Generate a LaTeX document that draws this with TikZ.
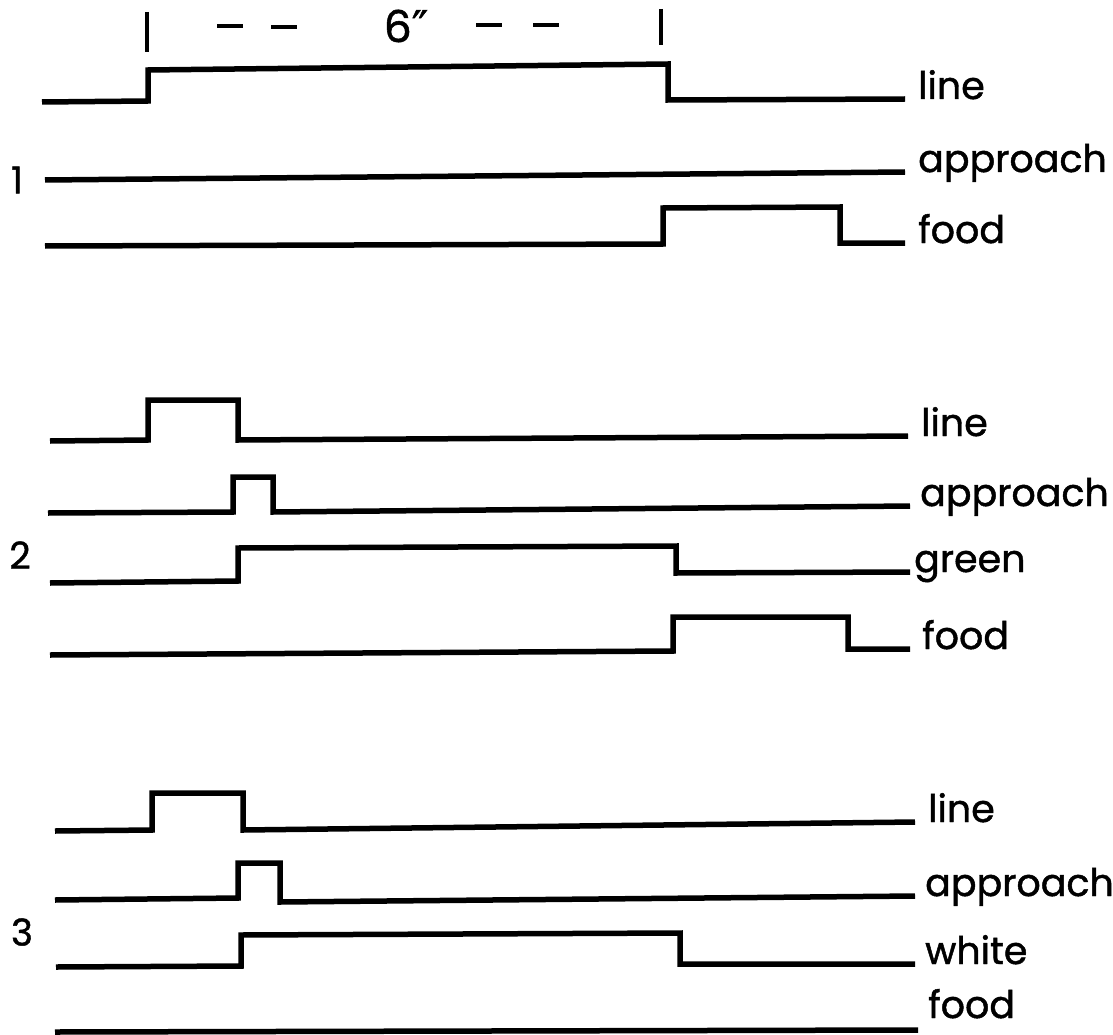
\documentclass[tikz,border=0pt]{standalone}
\usepackage{fontspec}
\setmainfont{Poppins}[FakeBold=1.2]
\newfontfamily\symfont{DejaVu Sans}[FakeBold=1]
\begin{document}
\begin{tikzpicture}[x=1pt,y=-1pt,
  sig/.style={line width=5.5pt, line join=miter, line cap=butt},
  tick/.style={line width=3.5pt},
  lab/.style={anchor=base west, inner sep=0pt, font=\fontsize{38}{38}\selectfont},
  num/.style={anchor=center, inner sep=0pt, font=\fontsize{37}{37}\selectfont}]
\useasboundingbox (0,0) rectangle (1113,1035);
% scale bar
\draw[tick] (147,12) -- (147,52);
\draw[tick] (661,9) -- (661,45);
\draw[tick] (217,26) -- (243,26);
\draw[tick] (271,27) -- (297,27);
\draw[tick] (476,25) -- (502,25);
\draw[tick] (533,25) -- (559,25);
\node[num, font=\fontsize{44}{44}\selectfont] (six) at (406,26) {6{\symfont ″}};
% panel 1
\node[num] (n1) at (17,180) {1};
\draw[sig] (42,102) -- (148,101) -- (148,70) -- (668,64) -- (668,100) -- (905,99) coordinate (e11);
\node[lab] (l11) at ([xshift=13pt]e11) {line};
\draw[sig] (45,180) -- (905,172) coordinate (e12);
\node[lab] (l12) at ([xshift=13pt]e12) {approach};
\draw[sig] (45,246) -- (663,244) -- (663,208) -- (840,207) -- (840,243) -- (905,243) coordinate (e13);
\node[lab] (l13) at ([xshift=13pt]e13) {food};
% panel 2
\node[num] (n2) at (20,555) {2};
\draw[sig] (50,441) -- (148,440) -- (148,400) -- (238,400) -- (238,440) -- (908,436) coordinate (e21);
\node[lab] (l21) at ([xshift=13pt]e21) {line};
\draw[sig] (48,513) -- (233,512) -- (233,477) -- (273,477) -- (273,512) -- (910,506) coordinate (e22);
\node[lab] (l22) at ([xshift=10pt]e22) {approach};
\draw[sig] (50,583) -- (238,581) -- (238,548) -- (676,546) -- (676,573) -- (910,572) coordinate (e23);
\node[lab] (l23) at ([xshift=4pt]e23) {green};
\draw[sig] (50,655) -- (673,651) -- (673,617) -- (848,617) -- (848,649) -- (910,649) coordinate (e24);
\node[lab] (l24) at ([xshift=12pt]e24) {food};
% panel 3
\node[num] (n3) at (22,932) {3};
\draw[sig] (55,831) -- (152,830) -- (152,793) -- (243,793) -- (243,830) -- (915,822) coordinate (e31);
\node[lab] (l31) at ([xshift=13pt]e31) {line};
\draw[sig] (55,900) -- (238,898) -- (238,863) -- (280,863) -- (280,902) -- (915,896) coordinate (e32);
\node[lab] (l32) at ([xshift=10pt]e32) {approach};
\draw[sig] (56,967) -- (241,966) -- (241,935) -- (680,933) -- (680,964) -- (915,964) coordinate (e33);
\node[lab] (l33) at ([xshift=10pt]e33) {white};
\draw[sig] (55,1032) -- (918,1030) coordinate (e34);
\node[lab] (l34) at (928,1018) {food};
\end{tikzpicture}
\end{document}
